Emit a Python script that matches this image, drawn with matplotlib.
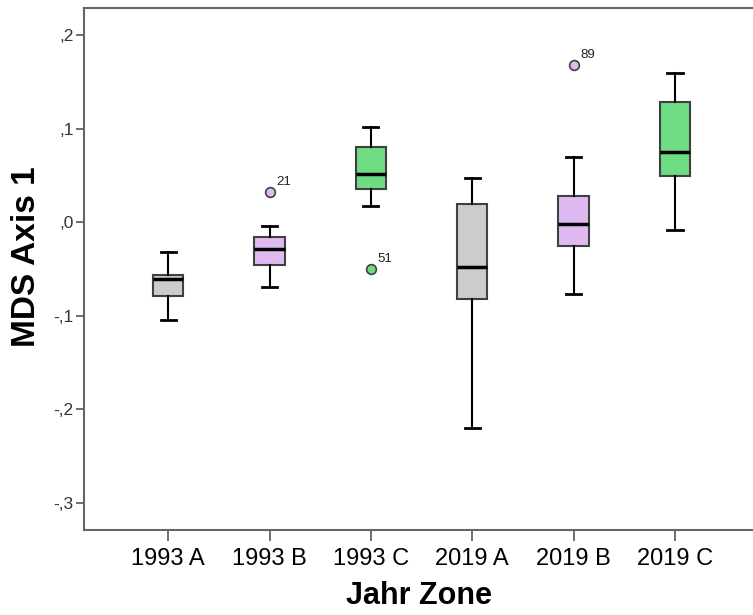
import matplotlib.pyplot as plt

plt.rcParams['font.family'] = ['Liberation Sans', 'DejaVu Sans']

# values
groups = ['1993 A', '1993 B', '1993 C', '2019 A', '2019 B', '2019 C']
whislo = [-0.105, -0.069, 0.017, -0.220, -0.077, -0.008]
q1 = [-0.079, -0.046, 0.035, -0.082, -0.025, 0.049]
med = [-0.061, -0.029, 0.052, -0.048, -0.002, 0.075]
q3 = [-0.056, -0.016, 0.080, 0.019, 0.028, 0.128]
whishi = [-0.032, -0.004, 0.102, 0.047, 0.070, 0.159]
fliers = [[], [0.032], [-0.050], [], [0.168], []]
flier_ids = [[], ['21'], ['51'], [], ['89'], []]
yticks = [0.2, 0.1, 0.0, -0.1, -0.2, -0.3]
ytick_labels = [',2', ',1', ',0', '-,1', '-,2', '-,3']

colors = ['#cccccc', '#dfbaf2', '#6fdc84'] * 2

stats = []
for i, g in enumerate(groups):
    stats.append(dict(label=g, whislo=whislo[i], q1=q1[i], med=med[i],
                      q3=q3[i], whishi=whishi[i], fliers=fliers[i]))

fig = plt.figure(figsize=(7.53, 6.15), dpi=100)
ax = fig.add_axes([0.1116, 0.1382, 0.8884, 0.8488])

positions = list(range(1, len(groups) + 1))
bp = ax.bxp(stats, positions=positions, widths=0.3, patch_artist=True,
            showfliers=False,
            boxprops=dict(edgecolor='#404040', linewidth=1.5),
            whiskerprops=dict(color='black', linewidth=1.5),
            capprops=dict(color='black', linewidth=2),
            medianprops=dict(color='black', linewidth=2.5))
for patch, c in zip(bp['boxes'], colors):
    patch.set_facecolor(c)
for cap in bp['caps']:
    x0, x1 = cap.get_xdata()
    m = (x0 + x1) / 2
    cap.set_xdata([m - 0.075, m + 0.075])

# outliers with case numbers
for i, pos in enumerate(positions):
    for v, lab in zip(fliers[i], flier_ids[i]):
        ax.plot(pos, v, 'o', ms=7, mfc=colors[i], mec='#404040', mew=1.2,
                zorder=3)
        ax.annotate(lab, (pos, v), xytext=(5, 5), textcoords='offset points',
                    fontsize=9.5, color='#222222')

ax.set_xlim(0.17, 6.77)
ax.set_ylim(-0.329, 0.229)
ax.set_xticks(positions)
ax.set_xticklabels(groups, fontsize=17)
ax.set_yticks(yticks)
ax.set_yticklabels(ytick_labels, fontsize=12.5, color='#333333')
ax.tick_params(axis='x', length=8, width=1.2, color='#555555', pad=5)
ax.tick_params(axis='y', length=6, width=1.2, color='#555555', pad=1.5)

for side in ['left', 'bottom', 'top']:
    ax.spines[side].set_color('#666666')
    ax.spines[side].set_linewidth(1.5)
ax.spines['right'].set_visible(False)

ax.set_xlabel('Jahr Zone', fontsize=22, fontweight='bold', labelpad=8)
ax.set_ylabel('MDS Axis 1', fontsize=24, fontweight='bold')
ax.yaxis.set_label_coords(-0.063, 0.523)

fig.savefig('out.png', dpi=100)
